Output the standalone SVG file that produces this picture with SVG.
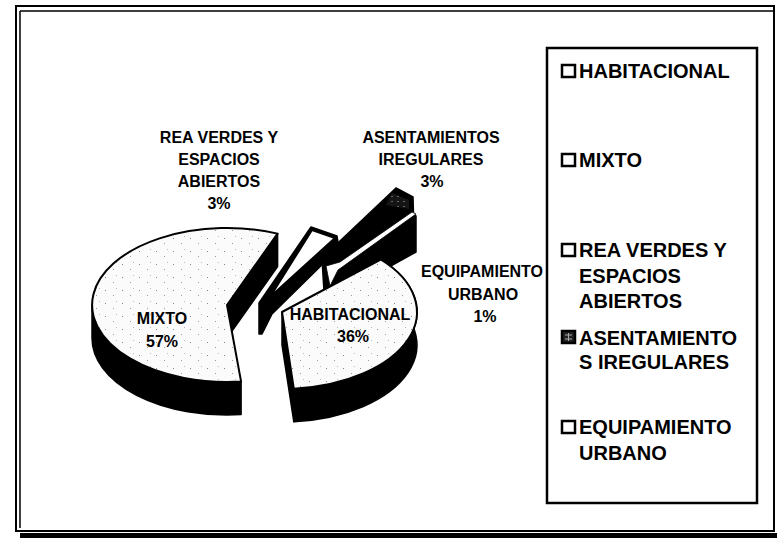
<svg xmlns="http://www.w3.org/2000/svg" width="777" height="541" viewBox="0 0 777 541">
<style>
.lbl{font-family:"Liberation Sans",Arial,sans-serif;font-weight:bold;font-size:16px;fill:#000;text-anchor:middle}
.leg{font-family:"Liberation Sans",Arial,sans-serif;font-weight:bold;font-size:20px;fill:#000}
.face{stroke:#000;stroke-width:2;stroke-linejoin:round}
.side{fill:#000;stroke:#000;stroke-width:1.5;stroke-linejoin:round}
.sq{fill:#fff;stroke:#000;stroke-width:2.5}
</style>
<defs>
<pattern id="stip" width="17" height="13" patternUnits="userSpaceOnUse">
<rect width="17" height="13" fill="#fbfbfb"/>
<rect x="3" y="4" width="1" height="1" fill="#888"/>
<rect x="11" y="9" width="1" height="1" fill="#999"/>
<rect x="14" y="2" width="1" height="1" fill="#bbb"/>
</pattern>
<pattern id="dark" width="6" height="5" patternUnits="userSpaceOnUse">
<rect width="6" height="5" fill="#151515"/>
<rect x="1" y="1" width="2" height="1" fill="#666"/>
</pattern>
</defs>
<rect width="777" height="541" fill="#fff"/>
<g id="frame" fill="none" stroke="#000">
<rect x="16" y="6" width="758" height="525" stroke-width="2"/>
<path d="M20,11 H773 M20,11 V528" stroke-width="1.5"/>
<rect x="20" y="533" width="757" height="5" fill="#000" stroke="none"/>
</g>
<g id="connectors"></g>
<g id="slice-asentamientos">
<path class="side" d="M322,258 L396,188 L413,197 L414,232 L324,292 Z"/>
<path d="M392,193 L409,200 L409,209 L386,205 Z" fill="url(#dark)"/>
</g>
<g id="slice-equipamiento">
<path class="side" d="M326,268 L414,214 L416,216 L416,252 L326,302 Z"/>
<path d="M326,266 L340,262 L412,212 L416,214 L338,270 L330,286 Z" fill="#fff" stroke="#000" stroke-width="0.8"/>
</g>
<g id="slice-rea">
<path class="side" d="M259,303 L311,227 L337,236 L339,248 L272,314 L262,334 L259,334 Z"/>
<path class="face" d="M312,230 L335,238 L270,297 Z" fill="#fff"/>
</g>
<g id="slice-mixto">
<path class="side" d="M241.1,381.6 A135,77 0 0,1 92,305 L92,338 A135,77 0 0,0 241.1,414.6 Z"/>
<path class="side" d="M227,305 L277.6,233.6 L277.6,266.6 L227,338 Z"/>
<path class="face" d="M227,305 L241.1,381.6 A135,77 0 1,1 277.6,233.6 Z" fill="url(#stip)"/>
</g>
<g id="slice-habitacional">
<path class="side" d="M380.7,259.5 A135,77 0 0,1 293.8,388.7 L293.8,421.7 A135,77 0 0,0 380.7,292.5 Z"/>
<path class="side" d="M282,312 L293.8,388.7 L293.8,421.7 L282,345 Z"/>
<path class="face" d="M282,312 L380.7,259.5 A135,77 0 0,1 293.8,388.7 Z" fill="url(#stip)"/>
</g>
<g id="labels">
<text class="lbl" x="219" y="143">REA VERDES Y</text>
<text class="lbl" x="219" y="165">ESPACIOS</text>
<text class="lbl" x="219" y="187">ABIERTOS</text>
<text class="lbl" x="219" y="209">3%</text>
<text class="lbl" x="431" y="143">ASENTAMIENTOS</text>
<text class="lbl" x="431" y="165">IREGULARES</text>
<text class="lbl" x="432" y="187">3%</text>
<text class="lbl" x="482" y="277">EQUIPAMIENTO</text>
<text class="lbl" x="483" y="300">URBANO</text>
<text class="lbl" x="485" y="322">1%</text>
<text class="lbl" x="162" y="324">MIXTO</text>
<text class="lbl" x="162" y="347">57%</text>
<text class="lbl" x="350" y="320">HABITACIONAL</text>
<text class="lbl" x="353" y="342">36%</text>
</g>
<g id="legend">
<rect x="547" y="48" width="210" height="455" fill="none" stroke="#000" stroke-width="2.5"/>
<rect class="sq" x="562" y="65" width="13" height="12"/>
<text class="leg" x="579" y="78">HABITACIONAL</text>
<rect class="sq" x="562" y="154" width="13" height="12"/>
<text class="leg" x="579" y="167">MIXTO</text>
<rect class="sq" x="562" y="244" width="13" height="12"/>
<text class="leg" x="579" y="257">REA VERDES Y</text>
<text class="leg" x="579" y="283">ESPACIOS</text>
<text class="leg" x="579" y="308">ABIERTOS</text>
<rect x="562" y="331" width="13" height="12" fill="#222" stroke="#000" stroke-width="2.5"/>
<path d="M565,335 H572 M565,339 H572 M568.5,333 V341" stroke="#aaa" stroke-width="1"/>
<text class="leg" x="579" y="345">ASENTAMIENTO</text>
<text class="leg" x="579" y="369">S IREGULARES</text>
<rect class="sq" x="562" y="421" width="13" height="12"/>
<text class="leg" x="579" y="434">EQUIPAMIENTO</text>
<text class="leg" x="579" y="460">URBANO</text>
</g>
</svg>
